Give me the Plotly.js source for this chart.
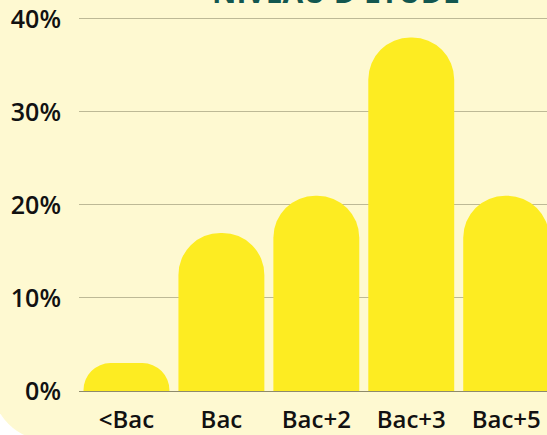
<!DOCTYPE html>
<html>
<head>
<meta charset="utf-8">
<script src="https://cdn.plot.ly/plotly-3.0.1.min.js"></script>
<style>
  html, body { margin:0; padding:0; width:547px; height:435px; overflow:hidden; background:#ffffff; }
  #card { position:absolute; left:-9px; top:-200px; width:700px; height:641px; background:#FEF9D1; border-bottom-left-radius:59px; }
  #chart { position:absolute; left:0; top:0; width:547px; height:435px; }
</style>
</head>
<body>
<div id="card"></div>
<div id="chart"></div>
<script>
const categories = ['<Bac', 'Bac', 'Bac+2', 'Bac+3', 'Bac+5'];
const values = [3, 17, 21, 38, 21];
const yTickValues = [0, 10, 20, 30, 40];
const yTickLabels = ['0%', '10%', '20%', '30%', '40%'];
const chartTitle = "NIVEAU D'ETUDE";

const esc = s => s.replace(/&/g, '&amp;').replace(/</g, '&lt;').replace(/>/g, '&gt;');
const xLabelFont = { family: 'Open Sans', size: 24, color: '#111111', weight: 600 };
const yLabelFont = { family: 'Open Sans', size: 25, color: '#111111', weight: 600 };

const trace = {
  type: 'bar',
  x: categories.map((c, i) => i),
  y: values,
  marker: { color: '#FDEC22', cornerradius: '50%', line: { width: 0 } },
  hoverinfo: 'none'
};

const layout = {
  width: 547, height: 435,
  margin: { l: 79, r: 0, t: 0, b: 44 },
  paper_bgcolor: 'rgba(0,0,0,0)',
  plot_bgcolor: 'rgba(0,0,0,0)',
  showlegend: false,
  bargap: 0.095,
  xaxis: {
    range: [-0.5, 4.43],
    tickmode: 'array',
    tickvals: categories.map((c, i) => i),
    ticktext: categories.map(esc),
    showgrid: false, zeroline: false, showline: false,
    ticks: '', ticklabelstandoff: 12,
    tickfont: xLabelFont, fixedrange: true
  },
  yaxis: {
    range: [0, 42.04],
    tickmode: 'array',
    tickvals: yTickValues,
    ticktext: yTickLabels,
    showgrid: true, gridcolor: '#BDB996', gridwidth: 1,
    zeroline: true, zerolinecolor: '#8E8A6C', zerolinewidth: 1,
    showline: false, ticks: '', ticklabelstandoff: 17,
    tickfont: yLabelFont, fixedrange: true
  },
  annotations: [{
    text: '<b>' + esc(chartTitle) + '</b>',
    xref: 'paper', yref: 'paper',
    x: 0.549, y: 1, xanchor: 'center', yanchor: 'bottom',
    yshift: -14, showarrow: false,
    font: { family: 'Open Sans', size: 30, color: '#13574F' }
  }]
};

Plotly.newPlot('chart', [trace], layout, { displayModeBar: false, staticPlot: true });
</script>
</body>
</html>
